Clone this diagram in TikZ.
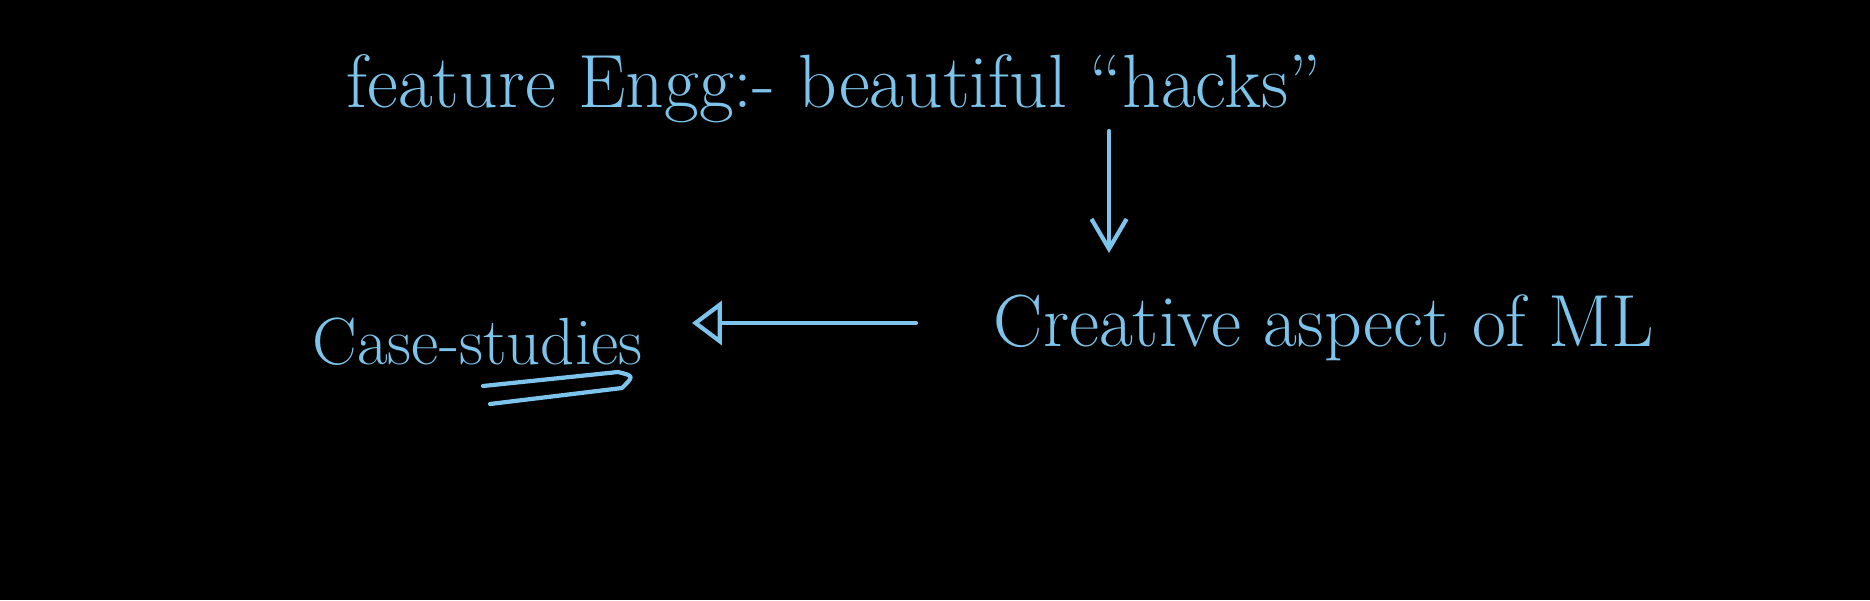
\documentclass[tikz,border=0pt]{standalone}
\usetikzlibrary{arrows.meta}
\definecolor{chalk}{RGB}{125,196,236}
\begin{document}
\begin{tikzpicture}[x=0.1mm,y=-0.1mm,
  hand/.style={text=chalk, inner sep=0pt, font=\fontsize{21}{25}\selectfont},
  stroke/.style={draw=chalk, line width=1.2pt, line cap=round, line join=round}]
\fill[black] (0,0) rectangle (1870,600);
\useasboundingbox (0,0) rectangle (1870,600);
\node[hand, anchor=base west, font=\fontsize{21.5}{25}\selectfont] (feat) at (346,108) {feature Engg:- beautiful ``hacks''};
\node[hand, anchor=base west] (creat) at (993,346) {Creative aspect of ML};
\node[hand, anchor=base west, font=\fontsize{19}{23}\selectfont] (case) at (312,364) {Case-studies};
\coordinate (dtop) at (1109,131);
\coordinate (dtip) at (1109,253);
\coordinate (lstart) at (916,323);
\coordinate (ltip) at (692,323);
\draw[stroke, -{Straight Barb[length=8.5pt,width=10pt]}] (dtop) -- (dtip);
\draw[stroke, -{Triangle[open,length=8.5pt,width=12.5pt]}] (lstart) -- (ltip);
\draw[stroke] (483,386) -- (618,372) .. controls (634,376) .. (622,388) -- (490,404);
\end{tikzpicture}
\end{document}
